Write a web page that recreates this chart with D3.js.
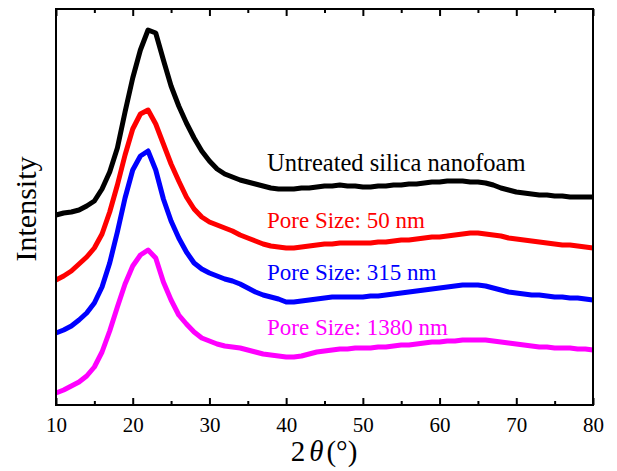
<!DOCTYPE html>
<html>
<head>
<meta charset="utf-8">
<script src="https://cdn.jsdelivr.net/npm/d3@7"></script>
<style>
  html, body { margin: 0; padding: 0; background: #fff; }
  svg text { font-family: "Liberation Serif", "Times New Roman", serif; }
</style>
</head>
<body>
<svg id="chart" width="617" height="471"></svg>
<script>
// 2θ values (degrees)
const twoTheta = d3.range(10, 81, 1);
// Intensity (arbitrary units, offset curves)
const untreated = [190,192,193,195,199,204,216,233,257,293,327,355,375,372,345,319,299,282,267,254,244,236,231,228,225,223,221,219,217,216,216,216,217,217,218,219,219,220,219,219,218,218,219,219,220,220,221,221,222,223,223,224,224,224,223,223,222,220,217,215,213,212,211,210,210,209,209,208,208,208,208];
const pore50 = [125,129,134,141,148,157,171,193,220,250,276,291,295,281,261,241,224,208,196,188,183,180,177,174,170,167,164,161,159,158,157,157,158,159,160,161,161,162,162,162,162,162,163,163,164,165,165,166,167,168,168,169,170,171,172,172,171,170,169,167,166,165,164,163,162,161,160,160,159,158,157];
const pore315 = [72,75,79,85,92,102,118,142,173,207,235,249,254,235,206,184,167,153,142,136,132,129,126,124,121,117,113,110,108,106,103,103,104,105,106,107,108,108,108,108,108,109,109,110,111,112,113,114,115,116,117,118,119,120,120,120,119,117,115,113,112,111,110,110,109,108,108,107,107,106,105];
const pore1380 = [12,15,19,23,29,38,53,74,98,121,139,150,155,147,123,105,90,81,73,67,64,61,59,58,57,55,53,51,50,49,48,48,49,51,53,54,55,56,56,57,57,57,58,58,59,60,60,61,62,63,63,64,64,65,65,65,65,64,63,62,61,60,59,58,58,57,57,57,56,56,55];

const seriesNames = ["Untreated silica nanofoam", "Pore Size: 50 nm", "Pore Size: 315 nm", "Pore Size: 1380 nm"];
const seriesColors = ["#000000", "#ff0000", "#0000ff", "#ff00ff"];
const seriesValues = [untreated, pore50, pore315, pore1380];

const xTicks = [10, 20, 30, 40, 50, 60, 70, 80];
const xMinorTicks = [15, 25, 35, 45, 55, 65, 75];

const FONT = "Liberation Serif";
const margin = { left: 56, right: 24, top: 9, bottom: 66 };
const W = 617, H = 471;
const svg = d3.select("#chart");

const x = d3.scaleLinear().domain([10, 80]).range([margin.left, W - margin.right]);
const y = d3.scaleLinear().domain([0, 396]).range([H - margin.bottom, margin.top]);

// curves
const line = d3.line().x((d, i) => x(twoTheta[i])).y(d => y(d));
seriesValues.forEach((vals, k) => {
  svg.append("path")
    .datum(vals)
    .attr("d", line)
    .attr("fill", "none")
    .attr("stroke", seriesColors[k])
    .attr("stroke-width", 5)
    .attr("stroke-linejoin", "round");
});

// frame
svg.append("rect")
  .attr("x", x(10)).attr("y", y(396))
  .attr("width", x(80) - x(10)).attr("height", y(0) - y(396))
  .attr("fill", "none").attr("stroke", "#000").attr("stroke-width", 2);

// bottom axis
const bottomAxis = svg.append("g").attr("transform", `translate(0,${y(0)})`)
  .call(d3.axisBottom(x).tickValues(xTicks).tickFormat(d3.format("d")).tickSizeInner(-7).tickSizeOuter(0).tickPadding(12))
  .attr("font-family", FONT).attr("font-size", 21);
bottomAxis.select(".domain").remove();
bottomAxis.selectAll(".tick line").attr("stroke-width", 2);
bottomAxis.selectAll(".tick text").attr("fill", "#000");

const bottomMinor = svg.append("g").attr("transform", `translate(0,${y(0)})`)
  .call(d3.axisBottom(x).tickValues(xMinorTicks).tickFormat("").tickSizeInner(-4).tickSizeOuter(0));
bottomMinor.select(".domain").remove();
bottomMinor.selectAll(".tick line").attr("stroke-width", 2);

// top axis (ticks only)
const topAxis = svg.append("g").attr("transform", `translate(0,${y(396)})`)
  .call(d3.axisTop(x).tickValues(xTicks).tickFormat("").tickSizeInner(-7).tickSizeOuter(0));
topAxis.select(".domain").remove();
topAxis.selectAll(".tick line").attr("stroke-width", 2);
const topMinor = svg.append("g").attr("transform", `translate(0,${y(396)})`)
  .call(d3.axisTop(x).tickValues(xMinorTicks).tickFormat("").tickSizeInner(-4).tickSizeOuter(0));
topMinor.select(".domain").remove();
topMinor.selectAll(".tick line").attr("stroke-width", 2);

// axis titles
const xt = svg.append("text")
  .attr("x", 324).attr("y", 461)
  .attr("text-anchor", "middle")
  .attr("font-family", FONT)
  .attr("font-size", 29).attr("fill", "#000");
xt.append("tspan").text("2");
xt.append("tspan").attr("font-style", "italic").attr("dx", 4).text("θ");
xt.append("tspan").attr("dx", 3).text("(°)");

svg.append("text")
  .attr("transform", "translate(36,209) rotate(-90)")
  .attr("text-anchor", "middle")
  .attr("font-family", FONT)
  .attr("font-size", 30).attr("fill", "#000")
  .text("Intensity");

// curve labels
const labelBaselines = [171, 228, 280, 335];
const labelSizes = [24.5, 23, 23, 23];
seriesNames.forEach((name, k) => {
  svg.append("text")
    .attr("x", 267).attr("y", labelBaselines[k])
    .attr("font-family", FONT)
    .attr("font-size", labelSizes[k])
    .attr("fill", seriesColors[k])
    .text(name);
});
</script>
</body>
</html>
